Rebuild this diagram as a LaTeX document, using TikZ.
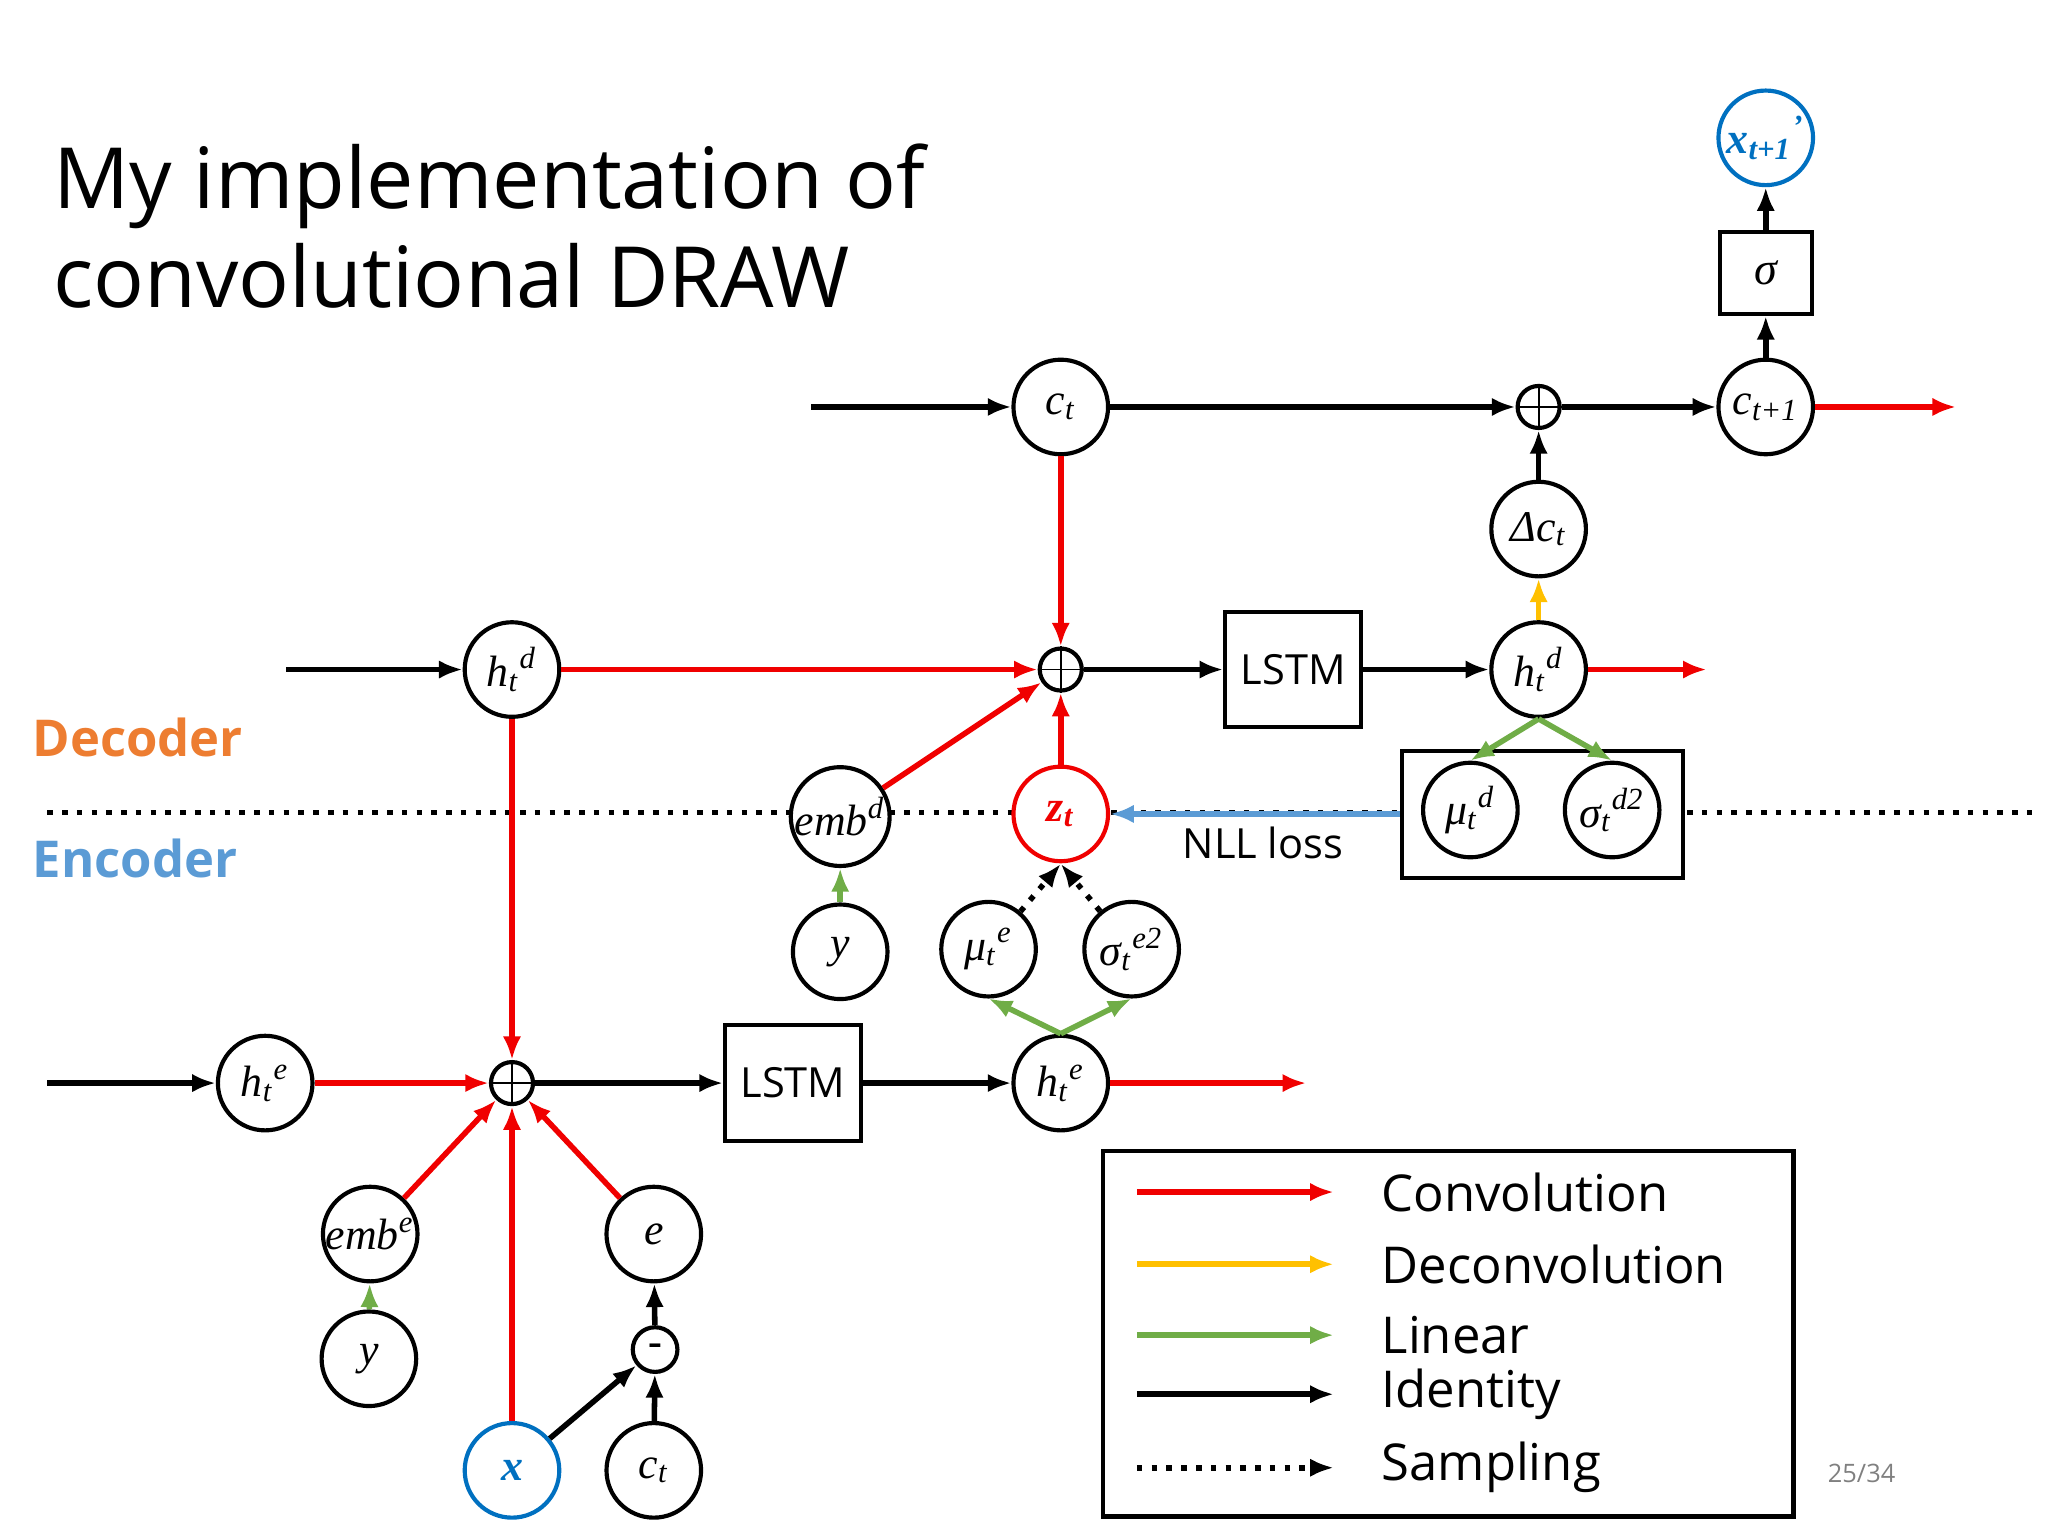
\documentclass[tikz,border=0pt]{standalone}
\usepackage{fontspec}
\setmainfont{Liberation Serif}
\newfontfamily\sans{Open Sans}
\usetikzlibrary{positioning,arrows.meta}
\tikzset{>={Latex[length=1.8mm,width=1.4mm]}}
\definecolor{convColor}{HTML}{F00000}
\definecolor{deconvColor}{HTML}{FFC000}
\definecolor{linColor}{HTML}{70AD47}
\definecolor{encColor}{HTML}{0070C0}
\definecolor{encText}{HTML}{5B9BD5}
\definecolor{decColor}{HTML}{ED7D31}
\tikzset{
  var/.style={circle,draw,line width=0.9pt,minimum size=0.72cm,inner sep=0pt,font=\fontsize{9.5}{9.5}\selectfont\itshape},
  op/.style={circle,draw,line width=0.9pt,minimum size=0.32cm,inner sep=0pt},
  box/.style={rectangle,draw,line width=0.9pt,minimum width=0.96cm,minimum height=0.88cm,font=\sans\fontsize{9}{9}\selectfont},
  conv/.style={->,line width=1.2pt,convColor},
  deconv/.style={->,line width=1.2pt,deconvColor},
  lin/.style={->,line width=1.2pt,linColor},
  ident/.style={->,line width=1.2pt},
  samp/.style={->,line width=1.2pt,dotted},
}
\begin{document}
\begin{tikzpicture}[x=0.01cm,y=-0.01cm]
\useasboundingbox (0,0) rectangle (1560,1170);
% title
\node[anchor=west,font=\sans\fontsize{18.3}{21.5}\selectfont,align=left] (title) at (28,172) {My implementation of\\convolutional DRAW};
% separator
\draw[line width=1.2pt,dotted] (36,619) -- (1555,619);
\node[font=\sans\bfseries\fontsize{11}{11}\selectfont,text=decColor] (declab) at (105,562) {Decoder};
\node[font=\sans\bfseries\fontsize{11}{11}\selectfont,text=encText] (enclab) at (103,654) {Encoder};
% top row
\coordinate (ctin) at (618,310);
\node[var,fill=white] (ct) at (808,310) {c\textsubscript{t}};
\node[op,fill=white] (plusc) at (1172,310) {};
\draw (plusc.north) -- (plusc.south) (plusc.west) -- (plusc.east);
\node[var] (ctn) at (1345,310) {c\textsubscript{t+1}};
\coordinate (ctout) at (1490,310);
\node[box,minimum width=0.7cm,minimum height=0.62cm,font=\fontsize{10}{10}\selectfont\itshape] (sig) at (1345,208) {σ};
\node[var,draw=encColor,text=encColor,font=\fontsize{9.5}{9.5}\selectfont\bfseries\itshape] (xn) at (1345,105) {x\textsubscript{t+1}\textsuperscript{’}};
\node[var] (dct) at (1172,403) {Δc\textsubscript{t}};
% decoder row
\coordinate (hdin) at (218,510);
\node[var,fill=white] (hdl) at (390,510) {h\textsubscript{t}\textsuperscript{d}};
\node[op,fill=white] (plusd) at (808,510) {};
\draw (plusd.north) -- (plusd.south) (plusd.west) -- (plusd.east);
\node[box] (lstmd) at (985,510) {LSTM};
\node[var] (hdr) at (1172,510) {h\textsubscript{t}\textsuperscript{d}};
\coordinate (hdout) at (1300,510);
\node[var,fill=white] (embd) at (640,622) {emb\textsuperscript{d}};
\node[var,fill=white,draw=convColor,text=convColor,font=\fontsize{9.5}{9.5}\selectfont\bfseries\itshape] (zt) at (808,620) {z\textsubscript{t}};
\node[draw,line width=0.9pt,fill=white,minimum width=2.14cm,minimum height=0.97cm,inner sep=0pt] (dist) at (1175,620.5) {};
\node[var,fill=white] (mud) at (1120,617) {μ\textsubscript{t}\textsuperscript{d}};
\node[var,fill=white] (sigd) at (1228,617) {σ\textsubscript{t}\textsuperscript{d2}};
\node[font=\sans\fontsize{9}{9}\selectfont] (nll) at (962,642) {NLL loss};
\node[var] (yd) at (640,725) {y};
\node[var] (mue) at (753,723) {μ\textsubscript{t}\textsuperscript{e}};
\node[var] (sige) at (862,723) {σ\textsubscript{t}\textsuperscript{e2}};
\coordinate (zs) at (808,658);
% encoder row
\coordinate (hein) at (36,825);
\node[var] (hel) at (202,825) {h\textsubscript{t}\textsuperscript{e}};
\node[op] (pluse) at (390,825) {};
\draw (pluse.north) -- (pluse.south) (pluse.west) -- (pluse.east);
\node[box] (lstme) at (604,825) {LSTM};
\node[var] (her) at (808,825) {h\textsubscript{t}\textsuperscript{e}};
\coordinate (heout) at (995,825);
\node[var] (embe) at (282,940) {emb\textsuperscript{e}};
\node[var] (ye) at (281,1035) {y};
\node[var,draw=encColor,text=encColor,font=\fontsize{9.5}{9.5}\selectfont\bfseries\itshape] (x) at (390,1120) {x};
\node[var] (e) at (498,940) {e};
\node[op,minimum size=0.34cm,font=\fontsize{9}{9}\selectfont\bfseries] (minus) at (499,1028) {-};
\node[var] (cte) at (498,1120) {c\textsubscript{t}};
% connectors
\draw[ident] (ctin) -- (ct);
\draw[ident] (ct) -- (plusc);
\draw[ident] (plusc) -- (ctn);
\draw[conv] (ctn) -- (ctout);
\draw[ident] (ctn) -- (sig);
\draw[ident] (sig) -- (xn);
\draw[ident] (dct) -- (plusc);
\draw[deconv] (hdr) -- (dct);
\draw[ident] (hdin) -- (hdl);
\draw[conv] (hdl) -- (plusd);
\draw[conv] (ct) -- (plusd);
\draw[ident] (plusd) -- (lstmd);
\draw[ident] (lstmd) -- (hdr);
\draw[conv] (hdr) -- (hdout);
\draw[conv] (embd) -- (plusd);
\draw[conv] (zt) -- (plusd);
\draw[lin] (hdr.south) -- (mud.north);
\draw[lin] (hdr.south) -- (sigd.north);
\draw[->,line width=1.2pt,encText] (dist.west|-zt) -- (zt);
\draw[lin] (yd) -- (embd);
\draw[samp] (mue) -- (zs);
\draw[samp] (sige) -- (zs);
\draw[lin] (her.north) -- (mue.south);
\draw[lin] (her.north) -- (sige.south);
\draw[ident] (hein) -- (hel);
\draw[conv] (hel) -- (pluse);
\draw[conv] (hdl) -- (pluse);
\draw[ident] (pluse) -- (lstme);
\draw[ident] (lstme) -- (her);
\draw[conv] (her) -- (heout);
\draw[conv] (embe) -- (pluse);
\draw[lin] (ye) -- (embe);
\draw[conv] (x) -- (pluse);
\draw[conv] (e) -- (pluse);
\draw[ident] (minus) -- (e);
\draw[ident] (cte) -- (minus);
\draw[ident] (x) -- (minus);
% legend
\node[draw,line width=0.9pt,minimum width=5.26cm,minimum height=2.78cm,inner sep=0pt] (legend) at (1103,1016) {};
\foreach \y/\s/\t in {908/conv/Convolution,963/deconv/Deconvolution,1017/lin/Linear,1062/ident/Identity,1118/samp/Sampling}{
  \coordinate (l\y) at (866,\y);
  \coordinate (r\y) at (1016,\y);
  \draw[\s] (l\y) -- (r\y);
  \node[anchor=west,font=\sans\fontsize{11}{11}\selectfont] (t\y) at (1040,\y) {\t};
}
\node[font=\sans\fontsize{5.5}{5.5}\selectfont,text=gray] (page) at (1418,1122) {25/34};
\end{tikzpicture}
\end{document}
